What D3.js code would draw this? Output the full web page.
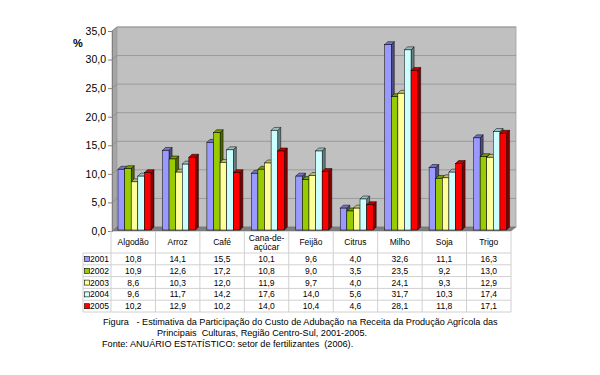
<!DOCTYPE html>
<html>
<head>
<meta charset="utf-8">
<script src="https://cdn.jsdelivr.net/npm/d3@7"></script>
<style>
  html, body { margin: 0; padding: 0; background: #fff; }
  svg { display: block; font-family: "Liberation Sans", Arial, sans-serif; }
</style>
</head>
<body>
<svg id="chart" width="600" height="375"></svg>
<script>
const categories = ["Algodão", "Arroz", "Café", "Cana-de-açúcar", "Feijão", "Citrus", "Milho", "Soja", "Trigo"];
const years = ["2001", "2002", "2003", "2004", "2005"];
const v2001 = [10.8, 14.1, 15.5, 10.1, 9.6, 4.0, 32.6, 11.1, 16.3];
const v2002 = [10.9, 12.6, 17.2, 10.8, 9.0, 3.5, 23.5, 9.2, 13.0];
const v2003 = [8.6, 10.3, 12.0, 11.9, 9.7, 4.0, 24.1, 9.3, 12.9];
const v2004 = [9.6, 11.7, 14.2, 17.6, 14.0, 5.6, 31.7, 10.3, 17.4];
const v2005 = [10.2, 12.9, 10.2, 14.0, 10.4, 4.6, 28.1, 11.8, 17.1];
const yTicks = [0, 5, 10, 15, 20, 25, 30, 35];
const captionLines = [
  "Figura   - Estimativa da Participação do Custo de Adubação na Receita da Produção Agrícola das",
  "Principais  Culturas, Região Centro-Sul, 2001-2005.",
  "Fonte: ANUÁRIO ESTATÍSTICO: setor de fertilizantes  (2006)."
];

const seriesValues = [v2001, v2002, v2003, v2004, v2005];
const frontColors = ["#9999FF", "#99CC00", "#FFFF99", "#CCFFFF", "#FF0000"];
const sideColors  = ["#4D4D80", "#4D6600", "#80804D", "#668080", "#800000"];
const topColors   = ["#7373BF", "#739900", "#BFBF73", "#99BFBF", "#BF0000"];

const svg = d3.select("#chart");
const fmt = v => d3.format(".1f")(v).replace(".", ",");

const DX = 5, DY = 4;          // 3D depth of walls
const bdx = 3, bdy = 3;        // 3D depth of bars
const x = d3.scaleBand().domain(categories).range([111, 511]).paddingInner(0).paddingOuter(0);
const y = d3.scaleLinear().domain([0, 35]).range([231, 31]);
const xs = d3.scaleBand().domain(years).range([7, 7 + 33]);

const y0 = y(0), yTop = y(35);
const xL = 112, xR = 511;

// side wall
svg.append("polygon")
  .attr("points", [[xL, yTop], [xL + DX, yTop - DY], [xL + DX, y0 - DY], [xL, y0]].join(" "))
  .attr("fill", "#A6A6A6").attr("stroke", "#8C8C8C").attr("stroke-width", 0.6);
// back wall
svg.append("rect")
  .attr("x", xL + DX).attr("y", yTop - DY)
  .attr("width", xR - xL).attr("height", y0 - yTop)
  .attr("fill", "#C0C0C0").attr("stroke", "#A0A0A0").attr("stroke-width", 0.8);
// floor
svg.append("polygon")
  .attr("points", [[xL, y0], [xL + DX, y0 - DY], [xR + DX, y0 - DY], [xR, y0]].join(" "))
  .attr("fill", "#7F7F7F").attr("stroke", "#6E6E6E").attr("stroke-width", 0.5);

// gridlines
yTicks.filter(t => t > 0).forEach(t => {
  svg.append("line")
    .attr("x1", xL + DX).attr("x2", xR + DX)
    .attr("y1", y(t) - DY).attr("y2", y(t) - DY)
    .attr("stroke", "#9A9A9A").attr("stroke-width", 1);
  svg.append("line")
    .attr("x1", xL).attr("x2", xL + DX)
    .attr("y1", y(t)).attr("y2", y(t) - DY)
    .attr("stroke", "#8A8A8A").attr("stroke-width", 0.8);
});

// y axis
const yAxis = d3.axisLeft(y).tickValues(yTicks).tickSize(4).tickPadding(2).tickFormat(fmt);
const ga = svg.append("g").attr("transform", `translate(${xL},0)`).call(yAxis);
ga.select(".domain").attr("stroke", "#808080");
ga.selectAll(".tick line").attr("stroke", "#808080");
ga.selectAll(".tick text").attr("font-size", 10.5).attr("fill", "#000")
  .attr("font-family", "'Liberation Sans', Arial, sans-serif");

svg.append("text").attr("x", 73).attr("y", 47).text("%")
  .attr("font-size", 11).attr("font-weight", "bold").attr("fill", "#000");

// bars
categories.forEach((c, ci) => {
  years.forEach((yr, si) => {
    const v = seriesValues[si][ci];
    const bx = x(c) + xs(yr);
    const w = xs.bandwidth();
    const yt = y(v);
    const yb = y0 - 1;
    const g = svg.append("g");
    g.append("polygon")
      .attr("points", [[bx + w, yt], [bx + w + bdx, yt - bdy], [bx + w + bdx, yb - bdy], [bx + w, yb]].join(" "))
      .attr("fill", sideColors[si]).attr("stroke", "#000").attr("stroke-width", 0.5);
    g.append("polygon")
      .attr("points", [[bx, yt], [bx + bdx, yt - bdy], [bx + w + bdx, yt - bdy], [bx + w, yt]].join(" "))
      .attr("fill", topColors[si]).attr("stroke", "#000").attr("stroke-width", 0.5);
    g.append("rect")
      .attr("x", bx).attr("y", yt).attr("width", w).attr("height", yb - yt)
      .attr("fill", frontColors[si]).attr("stroke", "#000").attr("stroke-width", 0.5);
  });
});

// data table
const tableTop = 231, headerBottom = 253, rowH = 11.8;
const legendLeft = 83;
const gridColor = "#D0D0D0";
const tbl = svg.append("g");
categories.forEach(c => {
  tbl.append("line").attr("x1", x(c)).attr("x2", x(c))
    .attr("y1", tableTop).attr("y2", headerBottom + rowH * 5)
    .attr("stroke", gridColor).attr("stroke-width", 1);
});
tbl.append("line").attr("x1", xR).attr("x2", xR)
  .attr("y1", tableTop).attr("y2", headerBottom + rowH * 5)
  .attr("stroke", gridColor);
tbl.append("line").attr("x1", legendLeft).attr("x2", legendLeft)
  .attr("y1", headerBottom).attr("y2", headerBottom + rowH * 5)
  .attr("stroke", gridColor);
for (let r = 0; r <= 5; r++) {
  tbl.append("line").attr("x1", legendLeft).attr("x2", xR)
    .attr("y1", headerBottom + rowH * r).attr("y2", headerBottom + rowH * r)
    .attr("stroke", gridColor);
}
categories.forEach(c => {
  const lines = c.startsWith("Cana-de-") ? ["Cana-de-", c.slice(8)] : [c];
  const cx = x(c) + x.bandwidth() / 2;
  lines.forEach((ln, li) => {
    const yy = lines.length === 1 ? 245 : 240.5 + li * 9;
    tbl.append("text").attr("x", cx).attr("y", yy).attr("text-anchor", "middle")
      .attr("font-size", 8.5).attr("fill", "#000").text(ln);
  });
});
years.forEach((yr, si) => {
  const ry = headerBottom + rowH * si;
  tbl.append("rect").attr("x", 84.5).attr("y", ry + 3.5).attr("width", 5).attr("height", 5)
    .attr("fill", frontColors[si]).attr("stroke", "#000").attr("stroke-width", 0.6);
  tbl.append("text").attr("x", 90).attr("y", ry + 9).attr("font-size", 8.5).attr("fill", "#000").text(yr);
  categories.forEach((c, ci) => {
    tbl.append("text").attr("x", x(c) + x.bandwidth() / 2).attr("y", ry + 9)
      .attr("text-anchor", "middle").attr("font-size", 8.5).attr("fill", "#000")
      .text(fmt(seriesValues[si][ci]));
  });
});

// caption
const capX = [103, 157, 102];
const capY = [325, 336, 347];
captionLines.forEach((t, i) => {
  svg.append("text").attr("x", capX[i]).attr("y", capY[i])
    .attr("font-size", 9.15).attr("fill", "#000")
    .attr("xml:space", "preserve").style("white-space", "pre").text(t);
});
</script>
</body>
</html>
